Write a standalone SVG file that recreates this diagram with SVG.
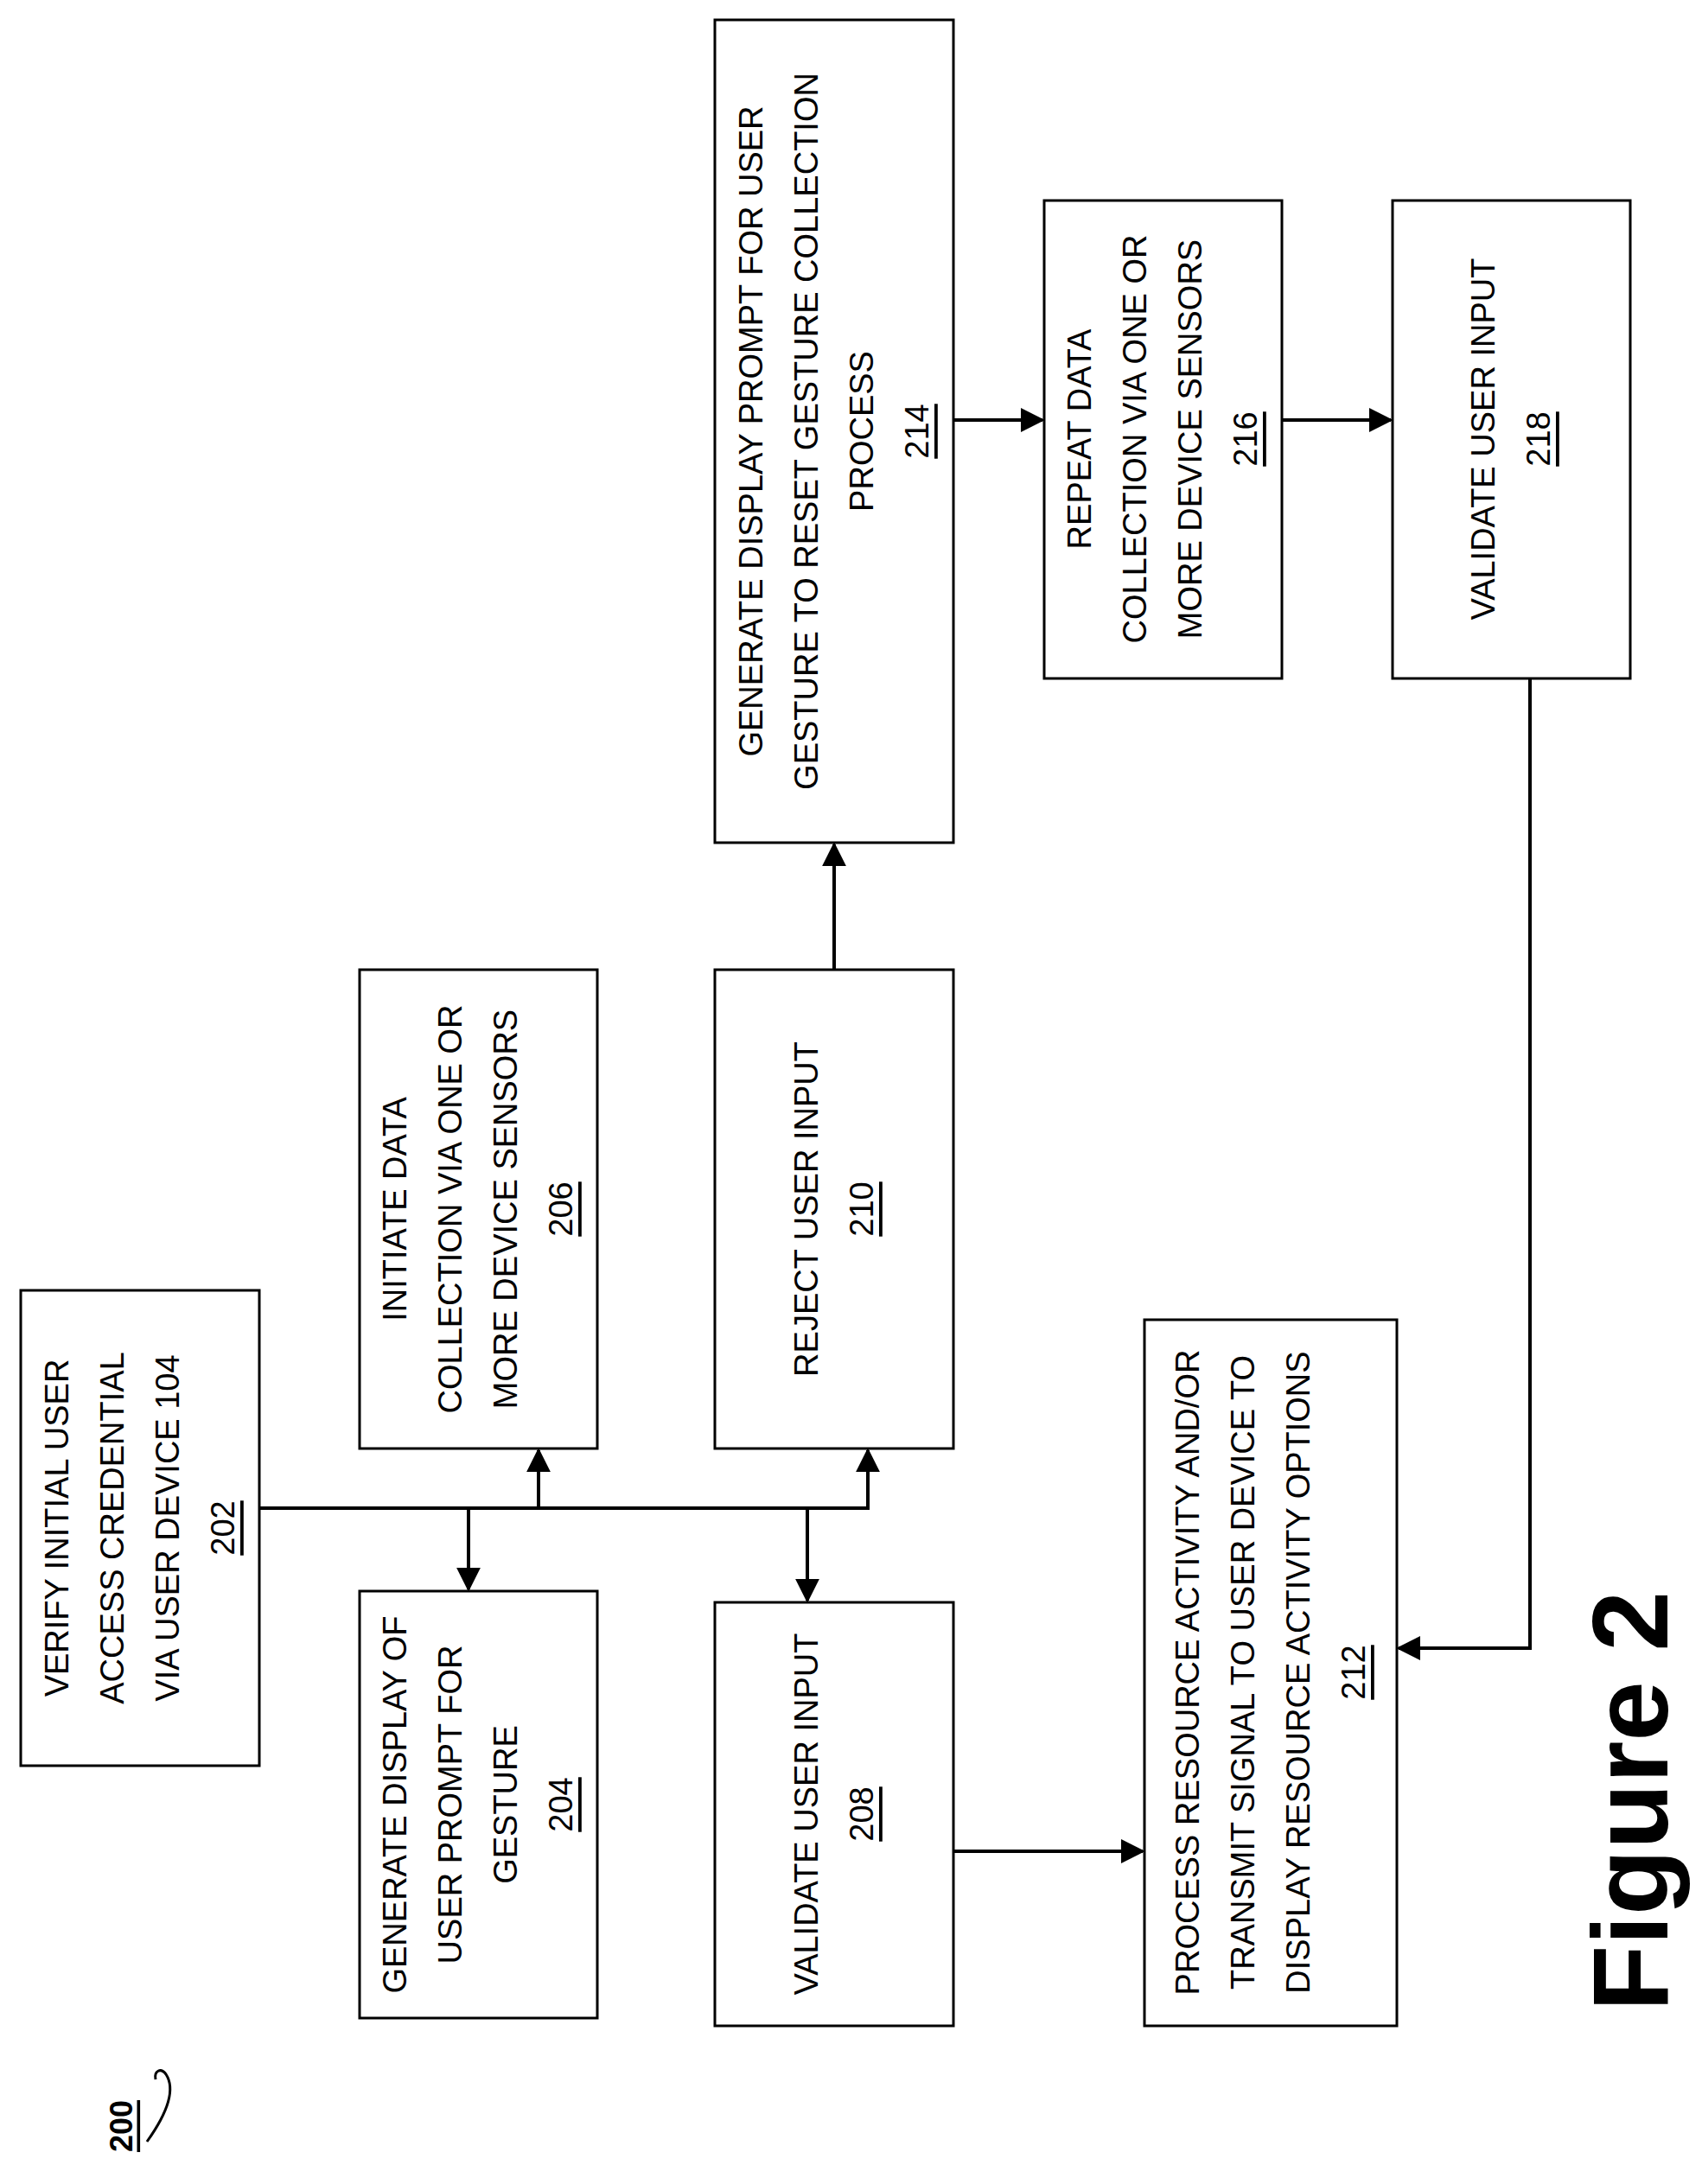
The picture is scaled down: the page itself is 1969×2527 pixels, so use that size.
<svg xmlns="http://www.w3.org/2000/svg" width="1969" height="2527" viewBox="0 0 1969 2527">
<style>
rect{fill:#fff;stroke:#000;stroke-width:3}
text{font-family:"Liberation Sans",Arial,sans-serif;font-size:38px;text-anchor:middle;dominant-baseline:central}
.c{fill:none;stroke:#000;stroke-width:4}
</style>
<defs><marker id="b" viewBox="0 0 10 10" refX="9" refY="5" markerWidth="7" markerHeight="7" orient="auto"><path d="M0,0L10,5L0,10z"/></marker></defs>
<rect style="fill:#fff;stroke:none" width="1969" height="2527"/>
<g id="n202"><rect x="24" y="1493" width="276" height="550"/><g transform="translate(162,1768) rotate(-90)"><text y="-96">VERIFY INITIAL USER</text><text y="-32">ACCESS CREDENTIAL</text><text y="32">VIA USER DEVICE 104</text><text y="96" text-decoration="underline">202</text></g></g>
<g id="n204"><rect x="416" y="1841" width="275" height="494"/><g transform="translate(553,2088) rotate(-90)"><text y="-96">GENERATE DISPLAY OF</text><text y="-32">USER PROMPT FOR</text><text y="32">GESTURE</text><text y="96" text-decoration="underline">204</text></g></g>
<g id="n206"><rect x="416" y="1122" width="275" height="554"/><g transform="translate(553,1399) rotate(-90)"><text y="-96">INITIATE DATA</text><text y="-32">COLLECTION VIA ONE OR</text><text y="32">MORE DEVICE SENSORS</text><text y="96" text-decoration="underline">206</text></g></g>
<g id="n208"><rect x="827" y="1854" width="276" height="490"/><g transform="translate(965,2099) rotate(-90)"><text y="-32">VALIDATE USER INPUT</text><text y="32" text-decoration="underline">208</text></g></g>
<g id="n210"><rect x="827" y="1122" width="276" height="554"/><g transform="translate(965,1399) rotate(-90)"><text y="-32">REJECT USER INPUT</text><text y="32" text-decoration="underline">210</text></g></g>
<g id="n212"><rect x="1324" y="1527" width="292" height="817"/><g transform="translate(1470,1935) rotate(-90)"><text y="-96">PROCESS RESOURCE ACTIVITY AND/OR</text><text y="-32">TRANSMIT SIGNAL TO USER DEVICE TO</text><text y="32">DISPLAY RESOURCE ACTIVITY OPTIONS</text><text y="96" text-decoration="underline">212</text></g></g>
<g id="n214"><rect x="827" y="23" width="276" height="952"/><g transform="translate(965,499) rotate(-90)"><text y="-96">GENERATE DISPLAY PROMPT FOR USER</text><text y="-32">GESTURE TO RESET GESTURE COLLECTION</text><text y="32">PROCESS</text><text y="96" text-decoration="underline">214</text></g></g>
<g id="n216"><rect x="1208" y="232" width="275" height="553"/><g transform="translate(1345,508) rotate(-90)"><text y="-96">REPEAT DATA</text><text y="-32">COLLECTION VIA ONE OR</text><text y="32">MORE DEVICE SENSORS</text><text y="96" text-decoration="underline">216</text></g></g>
<g id="n218"><rect x="1611" y="232" width="275" height="553"/><g transform="translate(1748,508) rotate(-90)"><text y="-32">VALIDATE USER INPUT</text><text y="32" text-decoration="underline">218</text></g></g>
<g id="connectors">
<path class="c" d="M300,1745H1004V1678" marker-end="url(#b)"/>
<path class="c" d="M542,1745V1839" marker-end="url(#b)"/>
<path class="c" d="M623,1745V1678" marker-end="url(#b)"/>
<path class="c" d="M934,1745V1852" marker-end="url(#b)"/>
<path class="c" d="M1103,2142H1322" marker-end="url(#b)"/>
<path class="c" d="M965,1122V977" marker-end="url(#b)"/>
<path class="c" d="M1103,486H1206" marker-end="url(#b)"/>
<path class="c" d="M1483,486H1609" marker-end="url(#b)"/>
<path class="c" d="M1770,785V1907H1618" marker-end="url(#b)"/>
<path d="M170,2478C190,2450 205,2420 192,2400 C186,2392 178,2396 180,2406" fill="none" stroke="#000" stroke-width="3"/>
</g>
<g transform="translate(140,2460) rotate(-90)"><text style="font-weight:bold;font-size:36px" text-decoration="underline">200</text></g>
<g transform="translate(1885,2084) rotate(-90)"><text style="font-weight:bold;font-size:125px">Figure 2</text></g>
</svg>
